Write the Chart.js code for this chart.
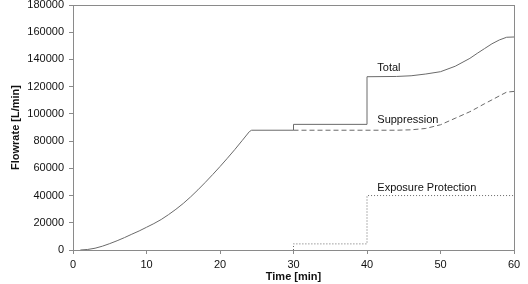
<!DOCTYPE html>
<html>
<head>
<meta charset="utf-8">
<script src="https://cdn.jsdelivr.net/npm/chart.js@4/dist/chart.umd.min.js"></script>
<style>
  html, body { margin: 0; padding: 0; background: #fff; }
  #wrap { width: 528px; height: 284px; }
</style>
</head>
<body>
<div id="wrap"><canvas id="flowChart" width="528" height="284"></canvas></div>
<script>
// time in minutes, flowrate in L/min
const totalTime = [1, 2, 3, 4, 5, 6, 7, 8, 9, 10, 11, 12, 13, 14, 15, 16, 17, 18, 19, 20, 21, 22, 23, 24, 24.3,
    30, 30, 40, 40, 44, 46, 48, 50, 52, 54, 55, 56, 57, 58, 59, 60];
const totalFlow = [0, 400, 1300, 2800, 4700, 6800, 9100, 11600, 14000, 16700, 19400, 22400, 26000, 29900, 34200,
    39000, 44200, 49700, 55400, 61300, 67400, 73700, 80300, 87000, 88000,
    88000, 92300, 92300, 127300, 127500, 128000, 129300, 131000, 135000, 140800, 144500, 148000, 151500, 154300, 156300, 156500];

const suppressionTime = [30, 40, 44, 46, 48, 50, 52, 54, 55, 56, 57, 58, 59, 60];
const suppressionFlow = [88000, 88000, 88000, 88300, 89300, 92000, 96800, 101600, 104500, 107500, 110300, 113200, 116000, 116500];

const exposureTime = [30, 30, 40, 40, 60];
const exposureFlow = [0, 4500, 4500, 40000, 40000];

// line captions: text, time, flowrate
const captionText = ['Total', 'Suppression', 'Exposure Protection'];
const captionTime = [41.4, 41.4, 41.4];
const captionFlow = [133800, 95500, 45500];

const xTicks = [0, 10, 20, 30, 40, 50, 60];
const yMax = 180000;

const fontFamily = 'Arial, "Liberation Sans", sans-serif';
const lineColor = '#6a6a6a';
const frameColor = '#8a8a8a';

function toPoints(xs, ys) {
    return xs.map((x, i) => ({ x: x, y: ys[i] }));
}

const framePlugin = {
    id: 'frame',
    afterDraw(chart) {
        const { ctx, chartArea, scales } = chart;
        ctx.save();
        ctx.strokeStyle = frameColor;
        ctx.lineWidth = 1;
        ctx.strokeRect(Math.round(chartArea.left) + 0.5, Math.round(chartArea.top) + 0.5,
            Math.round(chartArea.right - chartArea.left), Math.round(chartArea.bottom - chartArea.top));
        ctx.fillStyle = '#111';
        ctx.font = '11px ' + fontFamily;
        ctx.textBaseline = 'middle';
        ctx.textAlign = 'left';
        captionText.forEach((t, i) => {
            ctx.fillText(t, scales.x.getPixelForValue(captionTime[i]), scales.y.getPixelForValue(captionFlow[i]));
        });
        ctx.restore();
    }
};

new Chart(document.getElementById('flowChart'), {
    type: 'line',
    data: {
        datasets: [
            {
                label: 'Total',
                data: toPoints(totalTime, totalFlow),
                borderColor: lineColor,
                borderWidth: 1,
                pointRadius: 0,
                tension: 0,
                fill: false
            },
            {
                label: 'Suppression',
                data: toPoints(suppressionTime, suppressionFlow),
                borderColor: lineColor,
                borderWidth: 1,
                borderDash: [5, 3],
                pointRadius: 0,
                tension: 0,
                fill: false
            },
            {
                label: 'Exposure Protection',
                data: toPoints(exposureTime, exposureFlow),
                borderColor: lineColor,
                borderWidth: 1,
                borderDash: [1, 2],
                pointRadius: 0,
                tension: 0,
                fill: false
            }
        ]
    },
    options: {
        responsive: false,
        animation: false,
        events: [],
        layout: { padding: { top: 5, right: 14, left: 0, bottom: 0 } },
        plugins: {
            legend: { display: false },
            tooltip: { enabled: false }
        },
        scales: {
            x: {
                type: 'linear',
                min: 0,
                max: 60,
                afterBuildTicks: (scale) => { scale.ticks = xTicks.map(v => ({ value: v })); },
                afterFit: (scale) => { scale.height = 34; },
                grid: { drawOnChartArea: false, drawTicks: true, tickLength: 4, color: frameColor },
                border: { display: true, color: frameColor },
                ticks: {
                    padding: 4,
                    maxRotation: 0,
                    color: '#111',
                    font: { family: fontFamily, size: 11 },
                    callback: (v) => String(v)
                },
                title: {
                    display: true,
                    text: 'Time [min]',
                    color: '#111',
                    font: { family: fontFamily, size: 11, weight: 'bold' },
                    padding: { top: 0, bottom: 0 }
                }
            },
            y: {
                min: 0,
                max: yMax,
                afterFit: (scale) => {
                    scale.width = 73;
                    scale.paddingTop = 0;
                    scale.paddingBottom = 0;
                },
                grid: { drawOnChartArea: false, drawTicks: true, tickLength: 4, color: frameColor },
                border: { display: true, color: frameColor },
                ticks: {
                    stepSize: 20000,
                    padding: 5,
                    color: '#111',
                    font: { family: fontFamily, size: 11 },
                    callback: (v) => String(v)
                },
                title: {
                    display: true,
                    text: 'Flowrate [L/min]',
                    color: '#111',
                    font: { family: fontFamily, size: 11, weight: 'bold' },
                    padding: { top: 9, bottom: 0 }
                }
            }
        }
    },
    plugins: [framePlugin]
});
</script>
</body>
</html>
